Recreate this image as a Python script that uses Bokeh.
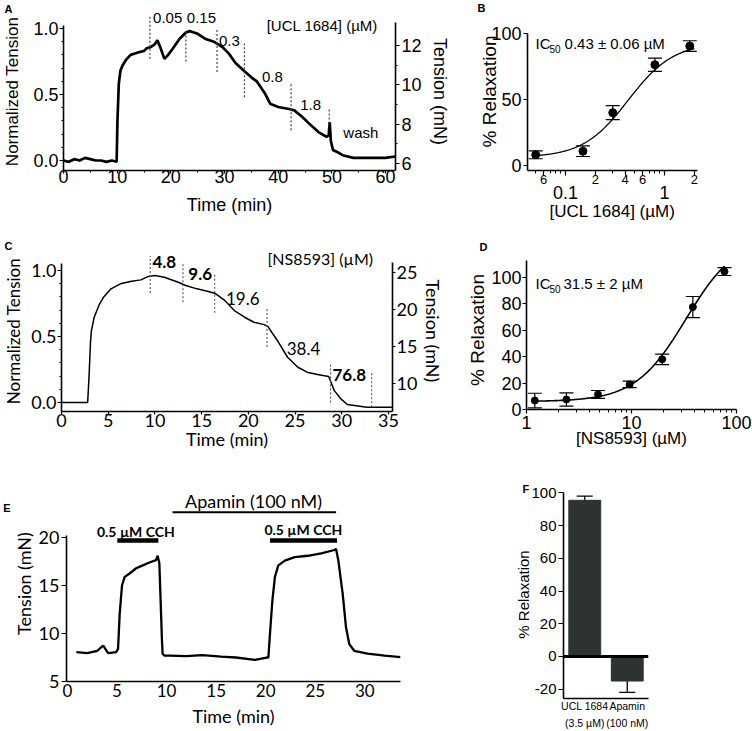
import numpy as np
from bokeh.plotting import figure
from bokeh.models import (Range1d, LinearAxis, LogAxis, FixedTicker, Label, Whisker,
                          ColumnDataSource, CustomJSTickFormatter, Span, FactorRange, TeeHead)
from bokeh.layouts import column, row
from bokeh.embed import file_html
from bokeh.resources import INLINE

HEL = "Liberation Sans"
CAL = "Lato"

# ---------------- data ----------------
# Panel A: UCL 1684 trace
A_time = [0, 1, 2, 3, 4, 5, 6, 7, 8, 9, 9.9, 10.05, 10.3, 10.6, 11, 11.6, 12.5, 13.3, 14, 15,
          15.5, 16.3, 17, 17.5, 18.1, 18.8, 19.5, 20.4, 21.6, 22.8, 23.5, 24.3, 25, 26.5, 28,
          29.6, 30.8, 32, 33.6, 35, 36, 37.5, 38.5, 40, 42, 43, 44.5, 46, 47.5, 49, 49.4,
          49.6, 49.8, 50.2, 51.2, 52, 54, 56, 58, 60, 61.8]
A_norm = [0.0, -0.01, 0.01, 0.0, 0.02, 0.01, 0.0, 0.0, -0.01, 0.0, -0.01, 0.3, 0.58, 0.68,
          0.72, 0.76, 0.8, 0.81, 0.82, 0.83, 0.85, 0.86, 0.88, 0.91, 0.85, 0.77, 0.8, 0.85,
          0.92, 0.97, 0.98, 0.97, 0.96, 0.92, 0.9, 0.86, 0.81, 0.74, 0.68, 0.63, 0.6, 0.51,
          0.43, 0.405, 0.39, 0.38, 0.33, 0.27, 0.215, 0.18, 0.19, 0.29, 0.15, 0.08, 0.06,
          0.04, 0.02, 0.02, 0.02, 0.02, 0.03]
A_mark_t = [16.1, 22.8, 28.6, 33.7, 42.4, 49.5]
A_mark_top = [1.10, 0.975, 0.99, 0.886, 0.595, 0.40]
A_mark_bot = [0.77, 0.75, 0.67, 0.48, 0.23, 0.28]
A_conc_text = ["0.05", "0.15", "0.3", "0.8", "1.8", "wash"]
A_conc_t = [19.4, 25.7, 30.9, 38.9, 46.05, 55.4]
A_conc_y = [1.081, 1.081, 0.909, 0.631, 0.417, 0.21]
A_xticks = [0, 10, 20, 30, 40, 50, 60]
A_yticks = [0.0, 0.5, 1.0]
A_rticks = [6, 8, 10, 12]

# Panel B: UCL 1684 concentration-response
B_conc = [0.05, 0.15, 0.3, 0.8, 1.8]
B_relax = [8.1, 10.8, 40.0, 76.3, 90.5]
B_err = [3.0, 4.0, 5.3, 5.0, 4.0]
B_fit = dict(bottom=6.0, top=93.0, ic50=0.43, hill=1.9)
B_xticks = [0.06, 0.1, 0.2, 0.4, 0.6, 1.0, 2.0]
B_xminor = [0.05, 0.07, 0.08, 0.09, 0.3, 0.5, 0.7, 0.8, 0.9]
B_yticks = [0, 50, 100]

# Panel C: NS8593 trace
C_time = [0, 1, 2, 2.8, 2.95, 3.1, 3.2, 3.5, 4.0, 4.5, 5.3, 6.3, 7.5, 8.5, 9.3, 10.0, 11.0,
          12.5, 13.3, 14.5, 15.6, 16.4, 17.4, 18.5, 19.6, 20.6, 21.7, 22.1, 23.1, 24.2,
          25.3, 26.3, 27.4, 28.6, 29.2, 29.9, 30.6, 32.7, 35.4]
C_norm = [0.0, 0.0, 0.0, 0.0, 0.2, 0.45, 0.545, 0.646, 0.735, 0.798, 0.861, 0.899, 0.919,
          0.929, 0.955, 0.962, 0.949, 0.911, 0.886, 0.861, 0.843, 0.828, 0.778, 0.697,
          0.646, 0.608, 0.59, 0.575, 0.47, 0.343, 0.267, 0.23, 0.212, 0.197, 0.09, 0.028,
          -0.015, -0.035, -0.035]
C_mark_t = [9.5, 13.0, 16.4, 22.0, 28.8, 33.2]
C_mark_top = [1.11, 1.05, 0.98, 0.72, 0.295, 0.23]
C_mark_bot = [0.83, 0.76, 0.68, 0.42, 0.0, -0.035]
C_conc_text = ["4.8", "9.6", "19.6", "38.4", "76.8"]
C_conc_t = [11.0, 14.85, 19.4, 25.9, 30.8]
C_conc_y = [1.063, 0.975, 0.79, 0.407, 0.205]
C_conc_bold = ["bold", "bold", "normal", "normal", "bold"]
C_xticks = [0, 5, 10, 15, 20, 25, 30, 35]
C_yticks = [0.0, 0.5, 1.0]
C_rticks = [10, 15, 20, 25]

# Panel D: NS8593 concentration-response
D_conc = [1.2, 2.4, 4.8, 9.6, 19.6, 38.4, 76.8]
D_relax = [6.8, 7.6, 11.4, 19.0, 38.0, 77.6, 104.5]
D_err = [5.5, 5.0, 3.0, 2.5, 4.0, 8.0, 3.0]
D_fit = dict(bottom=6.0, top=131.0, ic50=33.0, hill=1.8)
D_xticks = [1, 10, 100]
D_xminor = [2, 3, 4, 5, 6, 7, 8, 9, 20, 30, 40, 50, 60, 70, 80, 90]
D_yticks = [0, 20, 40, 60, 80, 100]

# Panel E: apamin trace
E_time = [0.9, 2.0, 3.0, 3.6, 4.1, 4.9, 5.1, 5.27, 5.5, 5.77, 6.27, 6.93, 7.6, 8.27, 8.93,
          9.1, 9.27, 9.53, 9.6, 9.77, 10.27, 12.0, 13.6, 15.5, 17.0, 18.9, 20.1, 20.27,
          20.43, 20.67, 20.93, 21.27, 21.93, 22.93, 24.27, 25.6, 26.93, 27.1, 27.33, 27.77,
          28.1, 28.43, 28.93, 30.27, 32.0, 33.6]
E_mN = [8.05, 7.95, 8.2, 8.75, 7.95, 8.05, 8.4, 12.1, 15.0, 15.9, 16.25, 16.8, 17.1, 17.4,
        17.65, 18.1, 17.3, 9.3, 7.9, 7.7, 7.7, 7.65, 7.75, 7.6, 7.5, 7.25, 7.5, 7.5, 9.97,
        13.4, 15.9, 17.1, 17.6, 17.95, 18.1, 18.35, 18.7, 18.8, 17.6, 14.1, 10.65, 8.9, 8.2,
        7.9, 7.7, 7.53]
E_cch_start = [5.03, 20.43]
E_cch_end = [9.17, 27.2]
E_cch_level = [19.69, 19.69]
E_cch_text_t = [6.9, 23.8]
E_cch_text_y = [20.66, 20.8]
E_apa_start = [10.6]
E_apa_end = [27.1]
E_apa_level = [22.64]
E_xticks = [0, 5, 10, 15, 20, 25, 30]
E_yticks = [5, 10, 15, 20]

# Panel F: bar chart
F_cats = ["UCL 1684\n(3.5 µM)", "Apamin\n(100 nM)"]
F_vals = [95.5, -15.0]
F_err = [2.5, 7.0]
F_yticks = [-20, 0, 20, 40, 60, 80, 100]


def hill(x, bottom, top, ic50, hill):
    x = np.asarray(x, dtype=float)
    return bottom + (top - bottom) / (1.0 + (ic50 / x) ** hill)


# ---------------- helpers ----------------
def base_fig(w, h, xr, yr, left, right, top, bottom, **kw):
    p = figure(width=w, height=h, x_range=xr, y_range=yr, output_backend="svg",
               toolbar_location=None, min_border_left=left, min_border_right=right,
               min_border_top=top, min_border_bottom=bottom, **kw)
    p.outline_line_color = None
    p.xgrid.visible = False
    p.ygrid.visible = False
    p.background_fill_color = "white"
    p.border_fill_color = "white"
    return p


def style_axis(ax, font, tick_size, label_size, tick_out=4, minor_out=2, standoff=2,
               label_standoff=4, lw=1.6):
    ax.axis_line_color = "black"
    ax.axis_line_width = lw
    ax.major_tick_line_color = "black"
    ax.major_tick_line_width = 1.2
    ax.minor_tick_line_color = "black"
    ax.minor_tick_line_width = 1
    ax.major_tick_out = tick_out
    ax.major_tick_in = 0
    ax.minor_tick_out = minor_out
    ax.minor_tick_in = 0
    ax.major_label_text_font = font
    ax.major_label_text_font_size = f"{tick_size}px"
    ax.major_label_text_color = "black"
    ax.major_label_standoff = standoff
    ax.axis_label_text_font = font
    ax.axis_label_text_font_size = f"{label_size}px"
    ax.axis_label_text_font_style = "normal"
    ax.axis_label_text_color = "black"
    ax.axis_label_standoff = label_standoff


def lab(p, x, y, text, font, size, align="center", baseline="middle", style="normal",
        x_offset=0):
    p.add_layout(Label(x=x, y=y, text=text, text_font=font, text_font_size=f"{size}px",
                       text_align=align, text_baseline=baseline, text_font_style=style,
                       text_color="black", x_offset=x_offset))


def panel_letter(p, text, offset, standoff):
    p.title.text = text
    p.title.align = "left"
    p.title.offset = offset
    p.title.standoff = standoff
    p.title.text_font = HEL
    p.title.text_font_size = "11px"
    p.title.text_font_style = "bold"
    p.title.text_color = "black"


fmt1 = CustomJSTickFormatter(code="return tick.toFixed(1);")
fmt0 = CustomJSTickFormatter(code="return String(Math.round(tick));")

# ---------------- Panel A ----------------
pA = base_fig(452, 226, Range1d(0, 61.85), Range1d(-0.0758, 1.1212), 63, 55, 12, 56)
pA.extra_y_ranges = {"mN": Range1d(5.644, 13.678)}
pA.line(A_time, A_norm, line_width=2.7, line_color="black")
pA.segment(x0=A_mark_t, y0=A_mark_bot, x1=A_mark_t, y1=A_mark_top, line_dash="2 2",
           line_width=1.2, line_color="#444444")
ax = pA.xaxis[0]
style_axis(ax, HEL, 18, 18, tick_out=3, minor_out=2, standoff=-4, label_standoff=9)
ax.ticker = FixedTicker(ticks=A_xticks, minor_ticks=[5, 15, 25, 35, 45, 55])
ax.formatter = fmt0
ax.axis_label = "Time (min)"
ay = pA.yaxis[0]
style_axis(ay, HEL, 18, 17, tick_out=4, minor_out=2, standoff=1, label_standoff=8)
ay.ticker = FixedTicker(ticks=A_yticks, minor_ticks=[0.1, 0.2, 0.3, 0.4, 0.6, 0.7, 0.8, 0.9])
ay.formatter = fmt1
ay.axis_label = "Normalized Tension"
ay.bounds = (-0.0758, 1.02)
ar = LinearAxis(y_range_name="mN")
style_axis(ar, HEL, 18, 18, tick_out=4, minor_out=2, standoff=2, label_standoff=5)
ar.ticker = FixedTicker(ticks=A_rticks, minor_ticks=[7, 9, 11])
ar.formatter = fmt0
ar.axis_label = "Tension (mN)"
ar.bounds = (5.644, 13.17)
pA.add_layout(ar, "right")
for t, y, s in zip(A_conc_t, A_conc_y, A_conc_text):
    lab(pA, t, y, s, HEL, 15)
lab(pA, 48.2, 1.025, "[UCL 1684] (µM)", HEL, 15)
panel_letter(pA, "A", -59, -5)

# ---------------- Panel B ----------------
pB = base_fig(300, 226, Range1d(0.04131, 2.154), Range1d(-3.79, 115.9), 75, 55, 12, 56,
              x_axis_type="log")
xs = np.geomspace(0.046, 2.0, 200)
pB.line(xs, hill(xs, **B_fit), line_width=1.3, line_color="black")
srcB = ColumnDataSource(dict(x=B_conc, y=B_relax,
                             lo=[v - e for v, e in zip(B_relax, B_err)],
                             hi=[v + e for v, e in zip(B_relax, B_err)]))
pB.add_layout(Whisker(source=srcB, base="x", lower="lo", upper="hi", line_color="black",
                      line_width=1.2,
                      upper_head=TeeHead(size=14, line_color="black", line_width=1.2),
                      lower_head=TeeHead(size=14, line_color="black", line_width=1.2)))
pB.scatter("x", "y", source=srcB, size=8, color="black")
bx = pB.xaxis[0]
style_axis(bx, HEL, 13, 18, tick_out=5, minor_out=3, standoff=-1, label_standoff=0)
bx.ticker = FixedTicker(ticks=B_xticks, minor_ticks=B_xminor)
bx.formatter = CustomJSTickFormatter(code="""
const m = {6: "6", 20: "2", 40: "4", 60: "6", 200: "2"};
const k = Math.round(tick * 100);
return (k in m) ? m[k] : "";
""")
bx2 = LogAxis(ticker=FixedTicker(ticks=[0.1, 1.0]),
              formatter=CustomJSTickFormatter(code="return tick < 0.5 ? '0.1' : '1';"))
style_axis(bx2, HEL, 18, 17, tick_out=0, minor_out=0, standoff=-1, label_standoff=0)
bx2.axis_line_color = None
bx2.axis_label = "[UCL 1684] (µM)"
pB.add_layout(bx2, "below")
by = pB.yaxis[0]
style_axis(by, HEL, 18, 19, tick_out=4, minor_out=0, standoff=2, label_standoff=-12)
by.ticker = FixedTicker(ticks=B_yticks)
by.formatter = fmt0
by.axis_label = "% Relaxation"
by.bounds = (-3.79, 100)
lab(pB, 0.0498, 92.4, "IC", HEL, 15, align="left")
lab(pB, 0.0498, 88.4, "50", HEL, 10, align="left", x_offset=14)
lab(pB, 0.0498, 92.4, "0.43 ± 0.06 µM", HEL, 15, align="left", x_offset=29)
panel_letter(pB, "B", -50, -3)

# ---------------- Panel C ----------------
pC = base_fig(448, 230, Range1d(0, 35.43), Range1d(-0.068, 1.1515), 60, 56, 24, 45)
pC.extra_y_ranges = {"mN": Range1d(6.216, 27.97)}
pC.line(C_time, C_norm, line_width=1.5, line_color="black")
pC.segment(x0=C_mark_t, y0=C_mark_bot, x1=C_mark_t, y1=C_mark_top, line_dash="2 2",
           line_width=1.1, line_color="#555555")
cx = pC.xaxis[0]
style_axis(cx, CAL, 18, 18, tick_out=3, minor_out=0, standoff=-1, label_standoff=-2)
cx.ticker = FixedTicker(ticks=C_xticks)
cx.formatter = fmt0
cx.axis_label = "Time (min)"
cy = pC.yaxis[0]
style_axis(cy, CAL, 18, 17, tick_out=4, minor_out=2, standoff=1, label_standoff=4)
cy.ticker = FixedTicker(ticks=C_yticks, minor_ticks=[0.1, 0.2, 0.3, 0.4, 0.6, 0.7, 0.8, 0.9])
cy.formatter = fmt1
cy.axis_label = "Normalized Tension"
cy.bounds = (-0.068, 1.05)
cr = LinearAxis(y_range_name="mN")
style_axis(cr, CAL, 18, 18, tick_out=3, minor_out=0, standoff=1, label_standoff=2)
cr.ticker = FixedTicker(ticks=C_rticks)
cr.formatter = fmt0
cr.axis_label = "Tension (mN)"
cr.bounds = (6.216, 26.35)
pC.add_layout(cr, "right")
for t, y, s, st in zip(C_conc_t, C_conc_y, C_conc_text, C_conc_bold):
    lab(pC, t, y, s, CAL, 17, style=st)
lab(pC, 27.7, 1.089, "[NS8593] (µM)", CAL, 16)
panel_letter(pC, "C", -57, -3)

# ---------------- Panel D ----------------
pD = base_fig(304, 230, Range1d(1, 100), Range1d(0, 120.45), 78, 16, 24, 47,
              x_axis_type="log")
xd = np.geomspace(1.2, 77.0, 200)
pD.line(xd, hill(xd, **D_fit), line_width=1.6, line_color="black")
srcD = ColumnDataSource(dict(x=D_conc, y=D_relax,
                             lo=[v - e for v, e in zip(D_relax, D_err)],
                             hi=[v + e for v, e in zip(D_relax, D_err)]))
pD.add_layout(Whisker(source=srcD, base="x", lower="lo", upper="hi", line_color="black",
                      line_width=1.2,
                      upper_head=TeeHead(size=14, line_color="black", line_width=1.2),
                      lower_head=TeeHead(size=14, line_color="black", line_width=1.2)))
pD.scatter("x", "y", source=srcD, size=7, color="black")
dx = pD.xaxis[0]
style_axis(dx, HEL, 18, 17, tick_out=4, minor_out=3, standoff=2, label_standoff=-3)
dx.ticker = FixedTicker(ticks=D_xticks, minor_ticks=D_xminor)
dx.formatter = fmt0
dx.axis_label = "[NS8593] (µM)"
dy = pD.yaxis[0]
style_axis(dy, HEL, 18, 19, tick_out=4, minor_out=0, standoff=1, label_standoff=0)
dy.ticker = FixedTicker(ticks=D_yticks)
dy.formatter = fmt0
dy.axis_label = "% Relaxation"
dy.bounds = (0, 113)
lab(pD, 1.218, 95.2, "IC", HEL, 15, align="left")
lab(pD, 1.218, 91.5, "50", HEL, 10, align="left", x_offset=14)
lab(pD, 1.218, 95.2, "31.5 ± 2 µM", HEL, 15, align="left", x_offset=28)
panel_letter(pD, "D", -47, -5)

# ---------------- Panel E ----------------
pE = base_fig(448, 275, Range1d(-0.1, 33.6), Range1d(5, 25.42), 63, 48, 29, 50)
pE.line(E_time, E_mN, line_width=2.3, line_color="black")
pE.segment(x0=E_cch_start, y0=E_cch_level, x1=E_cch_end, y1=E_cch_level,
           line_width=4.5, line_color="black")
pE.segment(x0=E_apa_start, y0=E_apa_level, x1=E_apa_end, y1=E_apa_level,
           line_width=2, line_color="black")
ex = pE.xaxis[0]
style_axis(ex, CAL, 17, 18, tick_out=0, minor_out=0, standoff=2, label_standoff=5)
ex.ticker = FixedTicker(ticks=E_xticks)
ex.formatter = fmt0
ex.axis_label = "Time (min)"
ey = pE.yaxis[0]
style_axis(ey, CAL, 18, 18, tick_out=5, minor_out=0, standoff=2, label_standoff=1)
ey.ticker = FixedTicker(ticks=E_yticks)
ey.formatter = fmt0
ey.axis_label = "Tension (mN)"
ey.bounds = (5, 20.2)
eL = LinearAxis(ticker=FixedTicker(ticks=[23.07]),
                formatter=CustomJSTickFormatter(code="return 'E';"))
eL.axis_line_color = None
eL.major_tick_line_color = None
eL.minor_tick_line_color = None
eL.major_tick_out = 0
eL.minor_tick_out = 0
eL.major_label_standoff = -1
eL.major_label_text_font = HEL
eL.major_label_text_font_size = "11px"
eL.major_label_text_font_style = "bold"
eL.major_label_text_color = "black"
pE.add_layout(eL, "left")
for t, y in zip(E_cch_text_t, E_cch_text_y):
    lab(pE, t, y, "0.5 µM CCH", CAL, 14, style="bold")
lab(pE, 18.77, 23.78, "Apamin (100 nM)", CAL, 18)

# ---------------- Panel F ----------------
pF = base_fig(304, 275, FactorRange(*F_cats), Range1d(-25.69, 101.5), 115, 104, 34, 33)
srcF = ColumnDataSource(dict(x=F_cats, top=F_vals,
                             lo=[v - e for v, e in zip(F_vals, F_err)],
                             hi=[v + e for v, e in zip(F_vals, F_err)]))
pF.vbar(x="x", top="top", bottom=0, width=0.75, source=srcF, fill_color="#2d3331",
        line_color="#2d3331")
pF.add_layout(Span(location=0, dimension="width", line_color="black", line_width=3))
pF.add_layout(Whisker(source=srcF, base="x", lower="lo", upper="hi", line_color="black",
                      line_width=1.3,
                      upper_head=TeeHead(size=16, line_color="black", line_width=1.3),
                      lower_head=TeeHead(size=16, line_color="black", line_width=1.3)))
fx = pF.xaxis[0]
style_axis(fx, HEL, 10.5, 10, tick_out=0, minor_out=0, standoff=1, label_standoff=0)
fx.axis_label = None
fx.major_label_text_line_height = 1.45
fy = pF.yaxis[0]
style_axis(fy, HEL, 15, 15, tick_out=5, minor_out=0, standoff=2, label_standoff=-4)
fy.ticker = FixedTicker(ticks=F_yticks)
fy.formatter = fmt0
fy.axis_label = "% Relaxation"
fy.bounds = (-25.69, 100)
panel_letter(pF, "F", -41, -9)

layout = column(row(pA, column(pB)), row(pC, column(pD)), row(pE, column(pF)))
open("out.html", "w").write(file_html(layout, INLINE))
